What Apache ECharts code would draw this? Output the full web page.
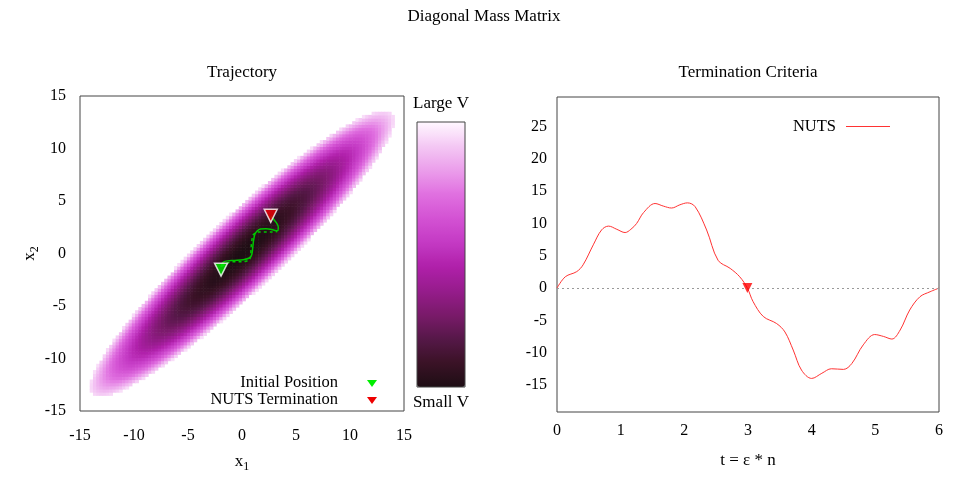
<!DOCTYPE html>
<html><head><meta charset="utf-8">
<script src="https://cdn.jsdelivr.net/npm/echarts@6/dist/echarts.min.js"></script>
<style>html,body{margin:0;padding:0;background:#fff}#c{width:969px;height:485px}</style>
</head><body><div id="c"></div>
<script>
// ---- tick labels ----
const xTicks = [-15, -10, -5, 0, 5, 10, 15];
const x2Ticks = [-15, -10, -5, 0, 5, 10, 15];
const tTicks = [0, 1, 2, 3, 4, 5, 6];
const vTicks = [-15, -10, -5, 0, 5, 10, 15, 20, 25];

// ---- potential field (correlated Gaussian) parameters ----
const ellipseAngleDeg = [44];         // orientation of the long axis
const ellipseHalfAxes = [19.3, 3.45]; // half-lengths where the map is cut (V = max)
const gridRange = [-15, 15];
const cellSize = [0.3];

// ---- trajectory (solid) ----
const solidX = [-1.94, -1.82, -1.57, -0.81, 0.12, 0.68, 0.90, 0.99, 1.08, 1.20, 1.42, 1.73, 2.22, 2.75, 3.15, 3.33, 3.36, 3.21, 2.96, 2.69];
const solidY = [-1.30, -0.91, -0.75, -0.66, -0.59, -0.43, -0.11, 0.52, 1.31, 1.85, 2.17, 2.33, 2.36, 2.29, 2.17, 2.20, 2.52, 2.90, 3.21, 3.53];
// ---- trajectory (dashed) ----
const dashX = [-1.88, -1.42, -0.81, -0.03, 0.58, 0.80, 0.83, 0.90, 1.05, 1.42, 2.13, 2.75, 3.27];
const dashY = [-1.23, -0.91, -0.78, -0.78, -0.66, -0.33, 0.36, 1.15, 1.79, 2.04, 2.04, 2.04, 2.10];
// ---- markers ----
const initialPos = [-1.94, -1.54];
const terminationPos = [2.66, 3.59];

// ---- termination criterion curve ----
const nutsT = [0, 0.13, 0.31, 0.41, 0.57, 0.70, 0.81, 0.94, 1.07, 1.16, 1.25, 1.36, 1.54, 1.67, 1.80, 1.93, 2.05, 2.17, 2.35, 2.53, 2.72, 2.87, 2.99, 3.08, 3.24, 3.45, 3.58, 3.71, 3.84, 4.00, 4.16, 4.31, 4.50, 4.63, 4.81, 4.99, 5.13, 5.26, 5.39, 5.54, 5.70, 5.86, 6.0];
const nutsV = [0, 1.75, 2.55, 3.6, 6.7, 9.0, 9.6, 9.1, 8.6, 9.1, 10.0, 11.7, 13.1, 12.7, 12.4, 12.9, 13.2, 12.6, 9.0, 4.3, 3.05, 1.75, 0, -2.1, -4.4, -5.5, -6.8, -9.6, -12.7, -14.0, -13.2, -12.5, -12.6, -11.7, -8.8, -7.2, -7.5, -7.9, -6.5, -3.4, -1.35, -0.57, 0];
const termT = [2.99];
const termV = [0];

// ---- palette (small V -> large V) ----
const paletteStops = ['#1e0e14', '#3a1226', '#561848', '#7a1a6a', '#961c8c', '#b020aa', '#c43ac4', '#d352d3', '#e070e0', '#eb9eeb', '#f4c8f4', '#fff8ff'];

const FONT = "'Liberation Serif','DejaVu Serif',serif";

// build the field
const fieldData = [];
(function () {
  const th = ellipseAngleDeg[0] * Math.PI / 180;
  const c = Math.cos(th), s = Math.sin(th);
  const a = ellipseHalfAxes[0], b = ellipseHalfAxes[1];
  const n = Math.round((gridRange[1] - gridRange[0]) / cellSize[0]);
  for (let i = 0; i < n; i++) {
    for (let j = 0; j < n; j++) {
      const x = gridRange[0] + (i + 0.5) * cellSize[0];
      const y = gridRange[0] + (j + 0.5) * cellSize[0];
      const u = x * c + y * s, w = -x * s + y * c;
      const r2 = (u * u) / (a * a) + (w * w) / (b * b);
      if (r2 <= 1) fieldData.push([x, y, r2]);
    }
  }
})();

const zip = (a, b) => a.map((v, i) => [v, b[i]]);
const axisText = { fontFamily: FONT, fontSize: 16, color: '#000' };
const nameText = { fontFamily: FONT, fontSize: 17, color: '#000' };
const subRich = {
  a: { fontFamily: FONT, fontSize: 17, color: '#000', verticalAlign: 'top', lineHeight: 20 },
  b: { fontFamily: FONT, fontSize: 12, color: '#000', verticalAlign: 'bottom', lineHeight: 20 }
};

const chart = echarts.init(document.getElementById('c'), null, { renderer: 'canvas' });
chart.setOption({
  animation: false,
  backgroundColor: '#fff',
  grid: [
    { left: 80, top: 96, width: 324, height: 315, show: true, borderColor: '#444', borderWidth: 1, backgroundColor: 'transparent', containLabel: false },
    { left: 557, top: 97, width: 382, height: 315, show: true, borderColor: '#444', borderWidth: 1, backgroundColor: 'transparent', containLabel: false }
  ],
  xAxis: [
    { gridIndex: 0, type: 'value', min: xTicks[0], max: xTicks[xTicks.length - 1], interval: 5,
      axisLine: { show: false }, axisTick: { show: false }, splitLine: { show: false },
      axisLabel: Object.assign({ margin: 17 }, axisText),
      name: '{a|x}{b|1}', nameLocation: 'middle', nameGap: 42,
      nameTextStyle: { rich: subRich } },
    { gridIndex: 1, type: 'value', min: tTicks[0], max: tTicks[tTicks.length - 1], interval: 1,
      axisLine: { show: false }, axisTick: { show: false }, splitLine: { show: false },
      axisLabel: Object.assign({ margin: 11 }, axisText),
      name: 't = ε * n', nameLocation: 'middle', nameGap: 40, nameTextStyle: nameText }
  ],
  yAxis: [
    { gridIndex: 0, type: 'value', min: x2Ticks[0], max: x2Ticks[x2Ticks.length - 1], interval: 5,
      axisLine: { show: false }, axisTick: { show: false }, splitLine: { show: false },
      axisLabel: Object.assign({ margin: 14 }, axisText),
      name: '{a|x}{b|2}', nameLocation: 'middle', nameGap: 38, nameRotate: 90,
      nameTextStyle: { rich: subRich } },
    { gridIndex: 1, type: 'value', min: -19.2, max: 29.6,
      axisLine: { show: false }, axisTick: { show: false, customValues: vTicks }, splitLine: { show: false },
      axisLabel: Object.assign({ margin: 10, customValues: vTicks }, axisText) }
  ],
  visualMap: {
    type: 'continuous', seriesIndex: 0, dimension: 2, min: 0, max: 1.05,
    left: 417, top: 122, padding: 0, itemWidth: 48, itemHeight: 265, calculable: false, realtime: false,
    showLabel: false, text: null,
    inRange: { color: paletteStops }, hoverLink: false
  },
  legend: {
    data: [{ name: 'NUTS', icon: 'rect' }], right: 74, top: 113, align: 'right',
    itemWidth: 44, itemHeight: 1, selectedMode: false,
    textStyle: { fontFamily: FONT, fontSize: 16.5, color: '#000', padding: [0, 5, 0, 0] }
  },
  graphic: [
    { type: 'text', x: 484, y: 17, style: { text: 'Diagonal Mass Matrix', font: '17px ' + FONT, fill: '#000', textAlign: 'center', textVerticalAlign: 'middle' } },
    { type: 'text', x: 242, y: 73, style: { text: 'Trajectory', font: '17px ' + FONT, fill: '#000', textAlign: 'center', textVerticalAlign: 'middle' } },
    { type: 'text', x: 748, y: 73, style: { text: 'Termination Criteria', font: '17px ' + FONT, fill: '#000', textAlign: 'center', textVerticalAlign: 'middle' } },
    { type: 'text', x: 441, y: 104, style: { text: 'Large V', font: '17px ' + FONT, fill: '#000', textAlign: 'center', textVerticalAlign: 'middle' } },
    { type: 'text', x: 441, y: 403, style: { text: 'Small V', font: '17px ' + FONT, fill: '#000', textAlign: 'center', textVerticalAlign: 'middle' } },
    { type: 'text', x: 338, y: 383, style: { text: 'Initial Position', font: '16.5px ' + FONT, fill: '#000', textAlign: 'right', textVerticalAlign: 'middle' } },
    { type: 'text', x: 338, y: 400, style: { text: 'NUTS Termination', font: '16.5px ' + FONT, fill: '#000', textAlign: 'right', textVerticalAlign: 'middle' } },
    { type: 'polygon', shape: { points: [[367, 380], [377, 380], [372, 387]] }, style: { fill: '#00ee00' } },
    { type: 'polygon', shape: { points: [[367, 397], [377, 397], [372, 404]] }, style: { fill: '#ee0000' } },
    { type: 'rect', shape: { x: 417, y: 122, width: 48, height: 265 }, style: { fill: 'none', stroke: '#444', lineWidth: 1 }, z: 100 }
  ],
  series: [
    { type: 'custom', name: 'V', xAxisIndex: 0, yAxisIndex: 0, data: fieldData, clip: true, progressive: 0,
      renderItem: function (params, api) {
        const x = api.value(0), y = api.value(1), h = cellSize[0] / 2;
        const p0 = api.coord([x - h, y + h]);
        const p1 = api.coord([x + h, y - h]);
        return { type: 'rect', shape: { x: p0[0], y: p0[1], width: p1[0] - p0[0] + 0.6, height: p1[1] - p0[1] + 0.6 }, style: { fill: api.visual('color') } };
      } },
    { type: 'line', name: 'trajectory dashed', xAxisIndex: 0, yAxisIndex: 0, data: zip(dashX, dashY), smooth: 0.3, showSymbol: false,
      lineStyle: { color: '#00c800', width: 1.5, type: [3, 3] }, z: 3 },
    { type: 'line', name: 'trajectory', xAxisIndex: 0, yAxisIndex: 0, data: zip(solidX, solidY), smooth: 0.3, showSymbol: false,
      lineStyle: { color: '#00c800', width: 1.5 }, z: 4 },
    { type: 'scatter', name: 'Initial Position', xAxisIndex: 0, yAxisIndex: 0, data: [initialPos], symbol: 'triangle', symbolRotate: 180, symbolSize: 13,
      itemStyle: { color: '#00ee00', borderColor: '#fff', borderWidth: 1.5 }, z: 5 },
    { type: 'scatter', name: 'NUTS Termination', xAxisIndex: 0, yAxisIndex: 0, data: [terminationPos], symbol: 'triangle', symbolRotate: 180, symbolSize: 13,
      itemStyle: { color: '#ee0000', borderColor: '#fff', borderWidth: 1.5 }, z: 5 },
    { type: 'line', name: 'NUTS', xAxisIndex: 1, yAxisIndex: 1, data: zip(nutsT, nutsV), smooth: 0.35, showSymbol: false,
      lineStyle: { color: '#ff3333', width: 1 }, itemStyle: { color: '#ff3333' },
      markLine: { silent: true, symbol: ['none', 'none'], label: { show: false },
        lineStyle: { color: '#999', width: 1, type: [2, 3] }, data: [{ yAxis: 0 }] } },
    { type: 'scatter', name: 'termination', xAxisIndex: 1, yAxisIndex: 1, data: zip(termT, termV), symbol: 'triangle', symbolRotate: 180, symbolSize: 10,
      itemStyle: { color: '#ff0000' }, z: 5 }
  ]
});
</script>
</body></html>
